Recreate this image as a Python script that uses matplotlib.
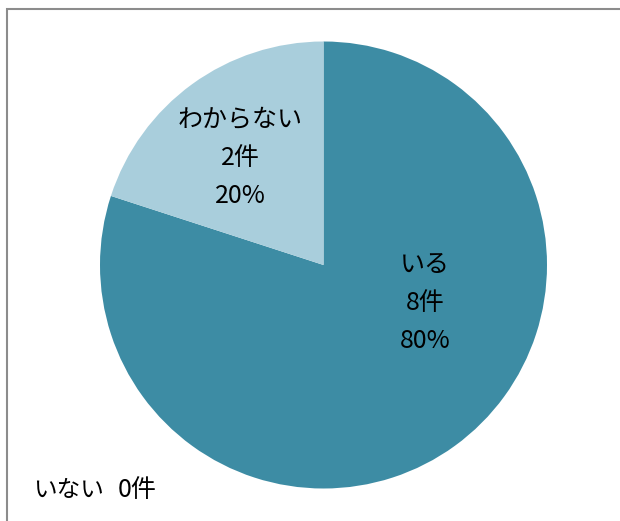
import matplotlib
matplotlib.use("Agg")
import matplotlib.pyplot as plt
from matplotlib.patches import Rectangle

plt.rcParams['font.family'] = ['Noto Sans CJK JP', 'DejaVu Sans']

categories = ["いる", "わからない"]
counts = [8, 2]
percents = ["80%", "20%"]
zero_name = "いない"
zero_count = "0件"
colors = ["#3D8CA4", "#A9CEDC"]

fig = plt.figure(figsize=(6.2, 5.21), dpi=100)
fig.patch.set_facecolor("white")

# chart area frame
fig.add_artist(Rectangle((7 / 620, 0 - 0.05), 1.2, 1 - 9 / 521 + 0.05,
                         transform=fig.transFigure, fill=False,
                         edgecolor="#8C8C8C", linewidth=1.5))

r = 223.5
cx, cy = 323.5, 521 - 265
ax = fig.add_axes([(cx - r) / 620, (cy - r) / 521, 2 * r / 620, 2 * r / 521])
wedges, _ = ax.pie(counts, colors=colors, startangle=90, counterclock=False,
                   radius=1.0, wedgeprops=dict(linewidth=0))
ax.set_xlim(-1, 1)
ax.set_ylim(-1, 1)
ax.set_aspect("auto")
ax.axis("off")

label_pos = [(0.454, -0.17), (-0.374, 0.479)]
for (x, y), cat, n, p in zip(label_pos, categories, counts, percents):
    ax.text(x, y, f"{cat}\n{n}件\n{p}", ha="center", va="center",
            fontsize=18, linespacing=1.58, color="black")

fig.text(33 / 620, 1 - 490 / 521, zero_name, ha="left", va="center",
         fontsize=17, color="black")
fig.text(118 / 620, 1 - 490 / 521, zero_count, ha="left", va="center",
         fontsize=18, color="black")

fig.savefig("out.png", dpi=100, facecolor="white")
